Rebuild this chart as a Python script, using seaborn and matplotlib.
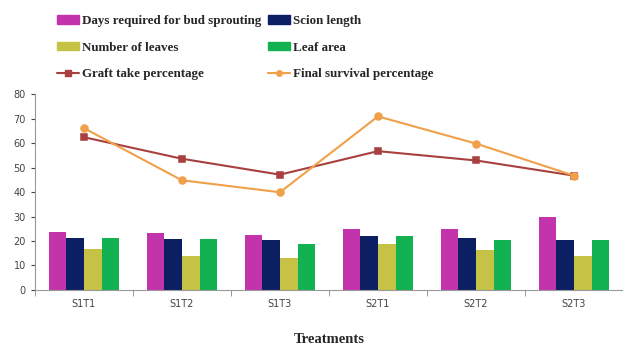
import pandas as pd
import numpy as np
import matplotlib
matplotlib.use('Agg')
import matplotlib.pyplot as plt
import seaborn as sns
from matplotlib.patches import Patch
from matplotlib.lines import Line2D

# --- Data ---
treatments = ['S1T1', 'S1T2', 'S1T3', 'S2T1', 'S2T2', 'S2T3']
days_sprouting = [23.8, 23.2, 22.4, 24.8, 24.8, 30.0]
scion_length = [21.4, 20.7, 20.2, 22.1, 21.4, 20.3]
num_leaves = [16.8, 14.0, 13.0, 18.9, 16.3, 13.9]
leaf_area = [21.4, 20.8, 18.7, 22.1, 20.3, 20.3]
graft_take = [62.4, 53.6, 47.1, 56.7, 52.9, 46.7]
final_survival = [66.1, 44.8, 39.9, 70.9, 59.8, 46.7]

bar_names = ['Days required for bud sprouting', 'Scion length',
             'Number of leaves', 'Leaf area']
bar_colors = ['#C233AC', '#0C1F62', '#C5C245', '#12B152']
graft_color = '#A8403F'
final_color = '#F0A048'

# --- Long-format table for the bars ---
bars_df = pd.DataFrame({
    'Treatment': treatments * 4,
    'Parameter': np.repeat(bar_names, len(treatments)),
    'Value': days_sprouting + scion_length + num_leaves + leaf_area,
})
lines_df = pd.DataFrame({
    'Treatment': treatments,
    'Graft': graft_take,
    'Final': final_survival,
})

sns.set_style('white')
fig = plt.figure(figsize=(6.23, 3.46), dpi=100)
ax = fig.add_axes([0.056, 0.162, 0.944, 0.566])

sns.barplot(data=bars_df, x='Treatment', y='Value', hue='Parameter',
            hue_order=bar_names, palette=bar_colors, width=0.72,
            saturation=1, legend=False, ax=ax)
for p in ax.patches:
    p.set_edgecolor('none')

sns.pointplot(data=lines_df, x='Treatment', y='Graft', color=graft_color,
              markers='s', markersize=5, linewidth=1.5, ax=ax)
sns.pointplot(data=lines_df, x='Treatment', y='Final', color=final_color,
              markers='o', markersize=5, linewidth=1.5, ax=ax)

ax.set_ylim(0, 80)
ax.set_xlim(-0.5, 5.5)
ax.set_yticks(range(0, 81, 10))
ax.set_ylabel('')
ax.set_xlabel('Treatments', fontfamily='Liberation Serif', fontweight='bold',
              fontsize=10.5, labelpad=17)
ax.tick_params(axis='both', labelsize=7, colors='#444444', length=3,
               direction='out', left=True, bottom=False)
ax.set_xticks(np.arange(-0.5, 6.0, 1.0), minor=True)
ax.tick_params(axis='x', which='minor', length=4, color='#888888', bottom=True)
for side in ['top', 'right']:
    ax.spines[side].set_visible(False)
for side in ['left', 'bottom']:
    ax.spines[side].set_color('#999999')
    ax.spines[side].set_linewidth(0.8)

# --- Legend above the plot ---
handles = [
    Patch(color=bar_colors[0], label=bar_names[0]),
    Patch(color=bar_colors[2], label=bar_names[2]),
    Line2D([], [], color=graft_color, marker='s', markersize=4, lw=1.5,
           label='Graft take percentage'),
    Patch(color=bar_colors[1], label=bar_names[1]),
    Patch(color=bar_colors[3], label=bar_names[3]),
    Line2D([], [], color=final_color, marker='o', markersize=4, lw=1.5,
           label='Final survival percentage'),
]
fig.legend(handles=handles, ncol=2, loc='upper left',
           bbox_to_anchor=(0.073, 0.99), frameon=False,
           prop={'family': 'Liberation Serif', 'weight': 'bold', 'size': 9.4},
           handlelength=1.7, handleheight=0.6, handletextpad=0.2,
           columnspacing=0.5, labelspacing=1.1)

plt.savefig('out.png', dpi=100)
